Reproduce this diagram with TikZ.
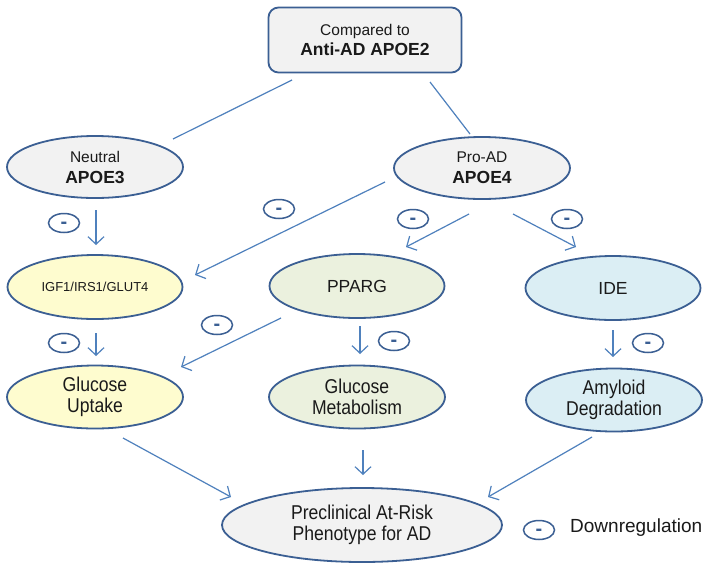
\documentclass[tikz,border=0pt]{standalone}
\usepackage{fontspec}
\setmainfont{Liberation Sans}
\newfontfamily\narrowfont[FakeStretch=0.88]{Liberation Sans}
\usetikzlibrary{shapes.geometric,arrows.meta}
\definecolor{outl}{HTML}{3B5F93}
\definecolor{arr}{HTML}{4F81BD}
\definecolor{fgray}{HTML}{F2F2F2}
\definecolor{fyel}{HTML}{FEFCCF}
\definecolor{fgrn}{HTML}{EBF1DE}
\definecolor{fblu}{HTML}{DBEEF4}
\definecolor{txt}{HTML}{1A1A1A}
\newcommand{\mdash}{\raisebox{-2.3pt}[\height][0pt]{-}}
\tikzset{
  ell/.style={ellipse, draw=outl, line width=1.8pt, inner sep=0pt, align=center, text=txt},
  topell/.style={ell, fill=fgray, minimum width=176pt, minimum height=62pt, font=\fontsize{15.5}{21}\selectfont},
  midell/.style={ell, minimum width=175pt, minimum height=64pt},
  lowell/.style={ell, minimum width=176pt, minimum height=63pt, font=\narrowfont\fontsize{20}{20.5}\selectfont},
  minusmark/.style={ellipse, draw=outl, line width=1.5pt, minimum width=31pt, minimum height=19pt, inner sep=0pt, font=\bfseries\fontsize{20}{20}\selectfont, text=outl},
  link/.style={draw=arr, line width=1.2pt},
  arrowlink/.style={link, -{Straight Barb[length=7.5pt,width=16pt,line width=1.2pt]}},
}
\begin{document}
\begin{tikzpicture}[x=1pt,y=-1pt]
\fill[white] (0,0) rectangle (711,571);
\useasboundingbox (0,0) rectangle (711,571);

% top box
\node[draw=outl, line width=1.8pt, fill=fgray, rounded corners=10pt, minimum width=193pt, minimum height=65pt, inner sep=0pt, align=center, text=txt, font=\fontsize{15.5}{20}\selectfont] (top) at (365,40)
  {Compared to\\{\bfseries\fontsize{17.5}{20}\selectfont Anti-AD APOE2}};

% level 1
\node[topell] (apoe3) at (95,167) {Neutral\\{\bfseries\fontsize{17.5}{21}\selectfont APOE3}};
\node[topell] (apoe4) at (482,168) {Pro-AD\\{\bfseries\fontsize{17.5}{21}\selectfont APOE4}};

% level 2
\node[midell, fill=fyel, font=\fontsize{13}{15}\selectfont] (igf) at (95,287) {IGF1/IRS1/GLUT4};
\node[midell, fill=fgrn, font=\fontsize{17.5}{20}\selectfont] (pparg) at (357,286) {PPARG};
\node[midell, fill=fblu, font=\fontsize{17.5}{20}\selectfont] (ide) at (613,288) {IDE};

% level 3
\node[lowell, fill=fyel] (gu) at (95,397) {Glucose\\Uptake};
\node[lowell, fill=fgrn] (gm) at (357,397) {Glucose\\Metabolism};
\node[lowell, fill=fblu] (ad) at (614,400) {Amyloid\\Degradation};

% bottom
\node[ell, fill=fgray, minimum width=280pt, minimum height=74pt, font=\narrowfont\fontsize{20}{21.5}\selectfont] (pre) at (362,525) {Preclinical At-Risk\\Phenotype for AD};

% legend
\node[minusmark] (leg) at (539,530) {\mdash};
\node[anchor=west, text=txt, font=\fontsize{19}{20}\selectfont, inner sep=0pt] (legtxt) at (570,528) {Downregulation};

% minus marks
\node[minusmark] (m1) at (64,223) {\mdash};
\node[minusmark] (m2) at (279,209) {\mdash};
\node[minusmark] (m3) at (413,219) {\mdash};
\node[minusmark] (m4) at (567,219) {\mdash};
\node[minusmark] (m5) at (64,343) {\mdash};
\node[minusmark] (m6) at (217,325) {\mdash};
\node[minusmark] (m7) at (394,341) {\mdash};
\node[minusmark] (m8) at (648,343) {\mdash};

% connector end points
\coordinate (t1) at (292,80);  \coordinate (a3t) at (173,139);
\coordinate (t2) at (430,82);  \coordinate (a4t) at (470,134);
\coordinate (a3b) at (96,210); \coordinate (igft) at (96,245);
\coordinate (a4l) at (385,182); \coordinate (igfr) at (195,275);
\coordinate (a4m) at (469,214); \coordinate (ppt) at (406,247);
\coordinate (a4r) at (513,214); \coordinate (idet) at (576,247);
\coordinate (igfb) at (96,333); \coordinate (gut) at (96,356);
\coordinate (ppl) at (281,318); \coordinate (gur) at (181,367);
\coordinate (ppb) at (360,326); \coordinate (gmt) at (360,354);
\coordinate (ideb) at (613,330); \coordinate (adt) at (613,357);
\coordinate (gub) at (123,438); \coordinate (prel) at (231,497);
\coordinate (gmb) at (363,450); \coordinate (pret) at (363,475);
\coordinate (adb) at (592,437); \coordinate (prer) at (488,497);

\draw[link] (t1) -- (a3t);
\draw[link] (t2) -- (a4t);
\draw[arrowlink] (a3b) -- (igft);
\draw[arrowlink] (a4l) -- (igfr);
\draw[arrowlink] (a4m) -- (ppt);
\draw[arrowlink] (a4r) -- (idet);
\draw[arrowlink] (igfb) -- (gut);
\draw[arrowlink] (ppl) -- (gur);
\draw[arrowlink] (ppb) -- (gmt);
\draw[arrowlink] (ideb) -- (adt);
\draw[arrowlink] (gub) -- (prel);
\draw[arrowlink] (gmb) -- (pret);
\draw[arrowlink] (adb) -- (prer);
\end{tikzpicture}
\end{document}
